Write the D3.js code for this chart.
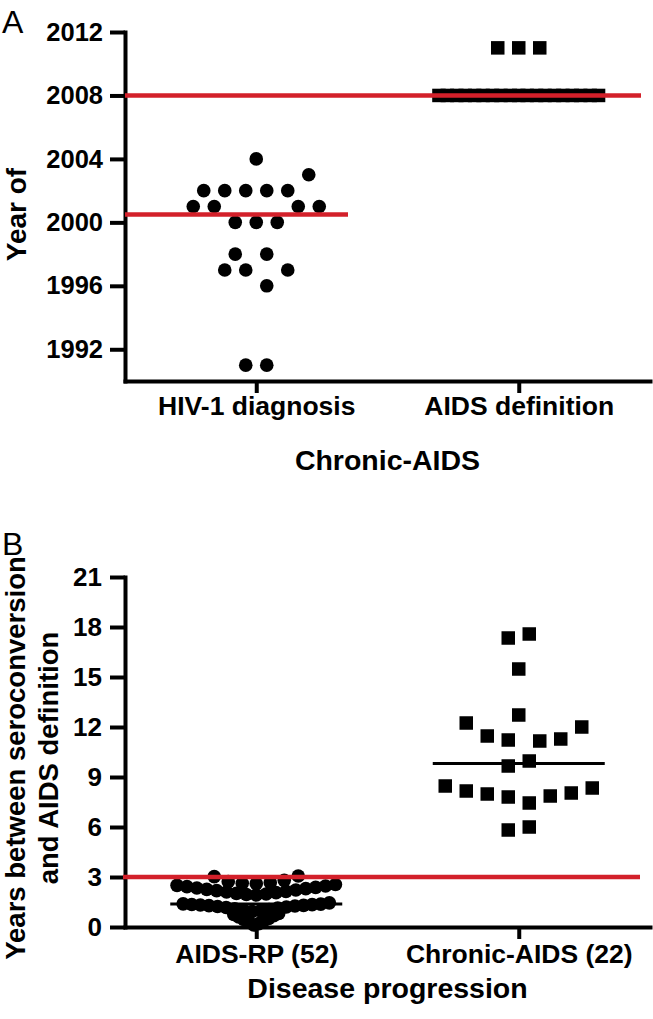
<!DOCTYPE html>
<html>
<head>
<meta charset="utf-8">
<script src="https://cdn.jsdelivr.net/npm/d3@7/dist/d3.min.js"></script>
<style>
  html, body { margin: 0; padding: 0; background: #fff; }
  svg { display: block; }
  text { font-family: "Liberation Sans", Arial, Helvetica, sans-serif; }
</style>
</head>
<body>
<script>
// ---------------- DATA ----------------
// Panel A: Chronic-AIDS patients, year of HIV-1 diagnosis and of AIDS definition
const panelACategories = ["HIV-1 diagnosis", "AIDS definition"];
const hivDiagnosisYears = [2004, 2003, 2002, 2002, 2002, 2002, 2002, 2001, 2001, 2001, 2001,
  2000, 2000, 2000, 1998, 1998, 1997, 1997, 1997, 1996, 1991, 1991];
// horizontal scatter slot of each point
const hivDiagnosisSlots = [0, 5, -5, -3, -1, 1, 3, -6, -4, 4, 6, -2, 0, 2, -2, 1, -3, -1, 3, 1, -1, 1];
const aidsDefinitionYears = [2011, 2011, 2011,
  2008, 2008, 2008, 2008, 2008, 2008, 2008, 2008, 2008, 2008,
  2008, 2008, 2008, 2008, 2008, 2008, 2008, 2008, 2008];
const aidsDefinitionSlots = [-2, 0, 2,
  -7.6, -6.8, -5.9, -5.1, -4.2, -3.4, -2.5, -1.7, -0.8, 0,
  0.8, 1.7, 2.5, 3.4, 4.2, 5.1, 5.9, 6.8, 7.6];
const panelAYearTicks = [1992, 1996, 2000, 2004, 2008, 2012];
const panelAYearDomain = [1990, 2012];

// Panel B: years between seroconversion and AIDS definition
const panelBCategories = ["AIDS-RP (52)", "Chronic-AIDS (22)"];
const aidsRPYears = [
  0.12, 0.2, 0.3, 0.38, 0.45, 0.52, 0.6, 0.68, 0.75, 0.82,
  0.93, 0.97, 1.01, 1.05, 1.09, 1.13, 1.17, 1.2, 1.23, 1.26, 1.28, 1.3, 1.32, 1.34, 1.35, 1.37, 1.39, 1.45,
  1.92, 1.95, 1.98, 2.02, 2.06, 2.1, 2.14, 2.18, 2.22, 2.26, 2.3, 2.34, 2.38, 2.42, 2.46, 2.5, 2.55,
  2.6, 2.62, 2.66, 2.72, 2.8, 3.02, 3.06];
const chronicAIDSYears = [17.34, 17.58, 15.48, 12.72, 12.24, 11.46, 11.22, 11.16, 11.28, 12.0,
  9.66, 9.96, 8.46, 8.16, 7.98, 7.8, 7.44, 7.86, 8.04, 8.34, 5.82, 6.0];
const chronicAIDSSlots = [-1, 1, 0, 0, -5, -3, -1, 2, 4, 6, -1, 1, -7, -5, -3, -1, 1, 3, 5, 7, -1, 1];
const panelBYearTicks = [0, 3, 6, 9, 12, 15, 18, 21];
const panelBYearDomain = [0, 21];
const rapidProgressionThreshold = 3;
// bins used by the scatter layout for the dense AIDS-RP column
const aidsRPRowBreaks = [0.9, 1.5, 2.58];

// ---------------- STYLE ----------------
const W = 653, H = 1019;
const RED = "#d3202a";
const AXW = 4;
const slotPx = 10.5;
const rpRowSpacing = [5, 8.6, 9.9, 14];

const svg = d3.select("body").append("svg").attr("width", W).attr("height", H);

const jitter = d3.scaleLinear().domain([0, 1]).range([0, slotPx]);

function styleAxis(g, fs) {
  g.select(".domain").attr("stroke", "#000").attr("stroke-width", AXW).attr("stroke-linecap", "square");
  g.selectAll(".tick line").attr("stroke", "#000").attr("stroke-width", AXW);
  g.selectAll(".tick text").attr("fill", "#000").attr("font-size", fs).attr("font-weight", "bold");
}

// ================= PANEL A =================
const aLeft = 125, aRight = 650, aTop = 32, aBottom = 381;
const yA = d3.scaleLinear().domain(panelAYearDomain).range([aBottom, aTop]);
const xA = d3.scalePoint().domain(panelACategories).range([aLeft, aRight]).padding(0.5);

const gA = svg.append("g");
const yAxisA = gA.append("g").attr("transform", `translate(${aLeft},0)`)
  .call(d3.axisLeft(yA).tickValues(panelAYearTicks).tickFormat(d3.format("d")).tickSize(15).tickPadding(7).tickSizeOuter(0));
styleAxis(yAxisA, 25.5);
const xAxisA = gA.append("g").attr("transform", `translate(0,${aBottom})`)
  .call(d3.axisBottom(xA).tickSize(12).tickPadding(3).tickSizeOuter(0));
styleAxis(xAxisA, 26.5);

gA.append("g").selectAll("circle").data(hivDiagnosisYears).join("circle")
  .attr("cx", (d, i) => xA(panelACategories[0]) + jitter(hivDiagnosisSlots[i]))
  .attr("cy", d => yA(d)).attr("r", 6.8).attr("fill", "#000");
const sq = 13.5;
gA.append("g").selectAll("rect").data(aidsDefinitionYears).join("rect")
  .attr("x", (d, i) => xA(panelACategories[1]) + jitter(aidsDefinitionSlots[i]) - sq / 2)
  .attr("y", d => yA(d) - sq / 2).attr("width", sq).attr("height", sq).attr("fill", "#000");

const hivMedian = d3.median(hivDiagnosisYears);
const defMedian = d3.median(aidsDefinitionYears);
gA.append("line").attr("x1", aLeft).attr("x2", 348).attr("y1", yA(hivMedian)).attr("y2", yA(hivMedian))
  .attr("stroke", RED).attr("stroke-width", 4.5);
gA.append("line").attr("x1", aLeft).attr("x2", 641).attr("y1", yA(defMedian)).attr("y2", yA(defMedian))
  .attr("stroke", RED).attr("stroke-width", 4.5);

gA.append("text").attr("x", 2).attr("y", 33).attr("font-size", 32).text("A");
gA.append("text").attr("transform", `translate(26,${(aTop + aBottom) / 2 + 8}) rotate(-90)`)
  .attr("text-anchor", "middle").attr("font-size", 28).attr("font-weight", "bold").text("Year of");
gA.append("text").attr("x", (aLeft + aRight) / 2).attr("y", 470).attr("text-anchor", "middle")
  .attr("font-size", 28.5).attr("font-weight", "bold").text("Chronic-AIDS");

// ================= PANEL B =================
const bLeft = 125, bRight = 650, bTop = 577, bBottom = 927;
const yB = d3.scaleLinear().domain(panelBYearDomain).range([bBottom, bTop]);
const xB = d3.scalePoint().domain(panelBCategories).range([bLeft, bRight]).padding(0.5);
const gB = svg.append("g");

const yAxisB = gB.append("g").attr("transform", `translate(${bLeft},0)`)
  .call(d3.axisLeft(yB).tickValues(panelBYearTicks).tickSize(15).tickPadding(8).tickSizeOuter(0));
styleAxis(yAxisB, 26);
const xAxisB = gB.append("g").attr("transform", `translate(0,${bBottom})`)
  .call(d3.axisBottom(xB).tickSize(12).tickPadding(5).tickSizeOuter(0));
styleAxis(xAxisB, 26.5);

// AIDS-RP layout: rows by value bin; within a row values grow outward alternately
const rpPts = aidsRPYears.map(v => ({ v, row: d3.bisectRight(aidsRPRowBreaks, v) }));
d3.groups(rpPts, d => d.row).forEach(([row, pts]) => {
  pts.sort((a, b) => a.v - b.v);
  const n = pts.length, s = rpRowSpacing[row];
  pts.forEach((p, k) => {
    let off;
    if (n % 2 === 1) { off = k === 0 ? 0 : Math.ceil(k / 2) * (k % 2 ? -1 : 1); }
    else { off = (Math.floor(k / 2) + 0.5) * (k % 2 ? 1 : -1); }
    p.off = off * s;
  });
});
gB.append("g").selectAll("circle").data(rpPts).join("circle")
  .attr("cx", d => xB(panelBCategories[0]) + d.off)
  .attr("cy", d => yB(d.v)).attr("r", 6.8).attr("fill", "#000");

gB.append("g").selectAll("rect").data(chronicAIDSYears).join("rect")
  .attr("x", (d, i) => xB(panelBCategories[1]) + jitter(chronicAIDSSlots[i]) - sq / 2)
  .attr("y", d => yB(d) - sq / 2).attr("width", sq).attr("height", sq).attr("fill", "#000");

const rpMedian = d3.median(aidsRPYears);
const chMedian = d3.median(chronicAIDSYears);
[[panelBCategories[0], rpMedian], [panelBCategories[1], chMedian]].forEach(([c, m]) => {
  gB.append("line").attr("x1", xB(c) - 86).attr("x2", xB(c) + 86)
    .attr("y1", yB(m)).attr("y2", yB(m)).attr("stroke", "#000").attr("stroke-width", 3);
});
gB.append("line").attr("x1", bLeft - 2).attr("x2", 640)
  .attr("y1", yB(rapidProgressionThreshold)).attr("y2", yB(rapidProgressionThreshold))
  .attr("stroke", RED).attr("stroke-width", 4.5);

gB.append("text").attr("x", 2).attr("y", 555).attr("font-size", 32).text("B");
const yt = gB.append("text").attr("transform", `translate(0,${(bTop + bBottom) / 2 + 6}) rotate(-90)`)
  .attr("text-anchor", "middle").attr("font-size", 27.5).attr("font-weight", "bold");
yt.append("tspan").attr("x", 0).attr("y", 25).text("Years between seroconversion");
yt.append("tspan").attr("x", 0).attr("y", 58).text("and AIDS definition");
gB.append("text").attr("x", (bLeft + bRight) / 2).attr("y", 998).attr("text-anchor", "middle")
  .attr("font-size", 28.5).attr("font-weight", "bold").text("Disease progression");
</script>
</body>
</html>
